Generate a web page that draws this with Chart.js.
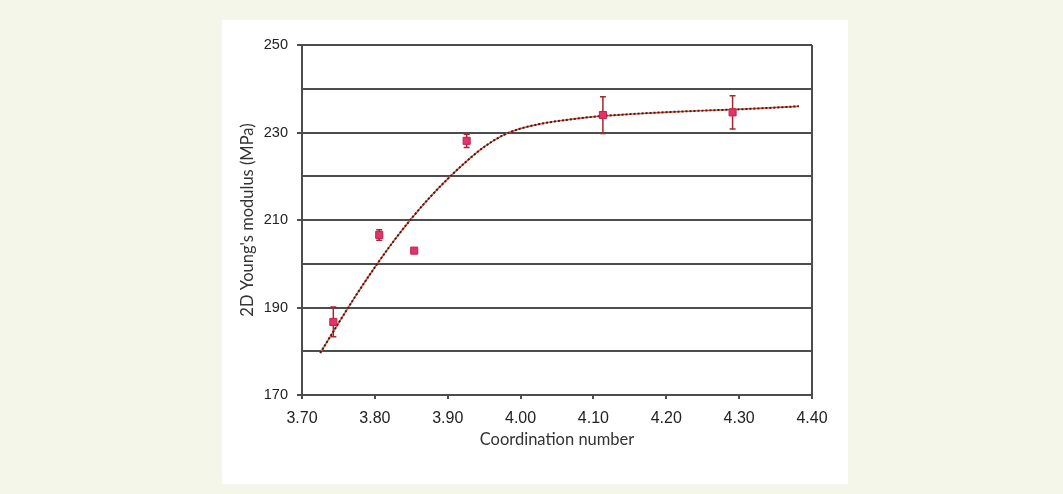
<!DOCTYPE html>
<html>
<head>
<meta charset="utf-8">
<script src="https://cdn.jsdelivr.net/npm/chart.js@4.4.0/dist/chart.umd.min.js"></script>
<style>
  body { margin: 0; background: #f3f6e8; }
  #panel { position: absolute; left: 222px; top: 20px; width: 626px; height: 464px; background: #ffffff; }
</style>
</head>
<body>
<div id="panel"><canvas id="myChart" width="626" height="464"></canvas></div>
<script>
'use strict';
// measured points
let coordNumbers = [3.743, 3.806, 3.854, 3.926, 4.113, 4.291];
let modulusValues = [186.7, 206.6, 203.0, 228.1, 234.0, 234.6];
let modulusErrors = [3.4, 1.2, 0, 1.5, 4.2, 3.8];

// fitted curve, traced point by point
let fitX = [3.725, 3.75, 3.775, 3.80, 3.825, 3.85, 3.875, 3.90, 3.925, 3.95, 3.975, 4.00, 4.025, 4.05, 4.10, 4.15, 4.20, 4.25, 4.30, 4.35, 4.382];
let fitY = [179.6, 186.4, 193.0, 199.2, 205.0, 210.3, 215.1, 219.4, 223.3, 226.7, 229.3, 230.9, 231.9, 232.6, 233.6, 234.2, 234.65, 235.0, 235.3, 235.7, 236.0];

let yLabelTicks = [170, 190, 210, 230, 250];
let xTickLabels = ['3.70', '3.80', '3.90', '4.00', '4.10', '4.20', '4.30', '4.40'];

let lineColor = '#4d4d4d';

function toPoints(xs, ys) {
    let pts = [];
    for (let i = 0; i < xs.length; i++) {
        pts.push({ x: xs[i], y: ys[i] });
    }
    return pts;
}

function hasLabel(v) {
    return yLabelTicks.some(t => Math.abs(t - v) < 1e-6);
}

// error bars drawn under the squares
const errorBars = {
    id: 'errorBars',
    beforeDatasetsDraw(chart) {
        let ctx = chart.ctx;
        let xs = chart.scales.x;
        let ys = chart.scales.y;
        ctx.save();
        ctx.strokeStyle = '#a3282c';
        ctx.lineWidth = 1.5;
        for (let i = 0; i < coordNumbers.length; i++) {
            if (!modulusErrors[i]) continue;
            let px = xs.getPixelForValue(coordNumbers[i]);
            let top = ys.getPixelForValue(modulusValues[i] + modulusErrors[i]);
            let bot = ys.getPixelForValue(modulusValues[i] - modulusErrors[i]);
            ctx.beginPath();
            ctx.moveTo(px, top); ctx.lineTo(px, bot);
            ctx.moveTo(px - 3, top); ctx.lineTo(px + 3, top);
            ctx.moveTo(px - 3, bot); ctx.lineTo(px + 3, bot);
            ctx.stroke();
        }
        ctx.restore();
    }
};

let ctx = document.getElementById('myChart').getContext('2d');
let myChart = new Chart(ctx, {
    type: 'scatter',
    data: {
        datasets: [{
            label: 'Measured',
            data: toPoints(coordNumbers, modulusValues),
            pointStyle: 'rect',
            pointRadius: 5,
            backgroundColor: '#e2336b',
            borderColor: '#c21f50',
            borderWidth: 1
        }, {
            label: 'Fit dots',
            data: toPoints(fitX, fitY),
            showLine: true,
            pointRadius: 0,
            borderColor: '#4a1810',
            borderWidth: 2,
            borderDash: [2, 2],
            cubicInterpolationMode: 'monotone'
        }, {
            label: 'Fit',
            data: toPoints(fitX, fitY),
            showLine: true,
            pointRadius: 0,
            borderColor: '#d9553f',
            borderWidth: 1.5,
            cubicInterpolationMode: 'monotone'
        }]
    },
    options: {
        responsive: false,
        animation: false,
        layout: { padding: { left: 0, right: 36, top: 25, bottom: 0 } },
        plugins: {
            legend: { display: false },
            tooltip: { enabled: false }
        },
        scales: {
            x: {
                type: 'linear',
                min: 3.70,
                max: 4.40,
                afterFit: s => { s.height = 89; },
                ticks: {
                    stepSize: 0.1,
                    padding: 10,
                    color: '#222',
                    font: { family: 'Liberation Sans', size: 16 },
                    callback: (v, i) => xTickLabels[i] !== undefined ? xTickLabels[i] : v.toFixed(2)
                },
                grid: {
                    color: c => (c.tick && Math.abs(c.tick.value - 4.4) < 1e-6) ? lineColor : 'rgba(0,0,0,0)',
                    lineWidth: 2,
                    tickColor: lineColor,
                    tickLength: 4
                },
                border: { color: lineColor, width: 2 },
                title: {
                    display: true,
                    text: 'Coordination number',
                    color: '#333',
                    font: { family: 'Lato', size: 16.5 },
                    padding: { top: 0, bottom: 34 }
                }
            },
            y: {
                min: 170,
                max: 250,
                afterFit: s => { s.width = 80; },
                ticks: {
                    stepSize: 10,
                    padding: 9,
                    color: '#222',
                    font: { family: 'Liberation Sans', size: 14.5 },
                    callback: v => hasLabel(v) ? v : ''
                },
                grid: {
                    color: lineColor,
                    lineWidth: 2,
                    tickColor: c => (c.tick && hasLabel(c.tick.value)) ? lineColor : 'rgba(0,0,0,0)',
                    tickLength: 5
                },
                border: { color: lineColor, width: 2 },
                title: {
                    display: true,
                    text: "2D Young's modulus (MPa)",
                    color: '#333',
                    font: { family: 'Lato', size: 16.5 },
                    padding: { top: 15.6, bottom: 0 }
                }
            }
        }
    },
    plugins: [errorBars]
});
</script>
</body>
</html>
